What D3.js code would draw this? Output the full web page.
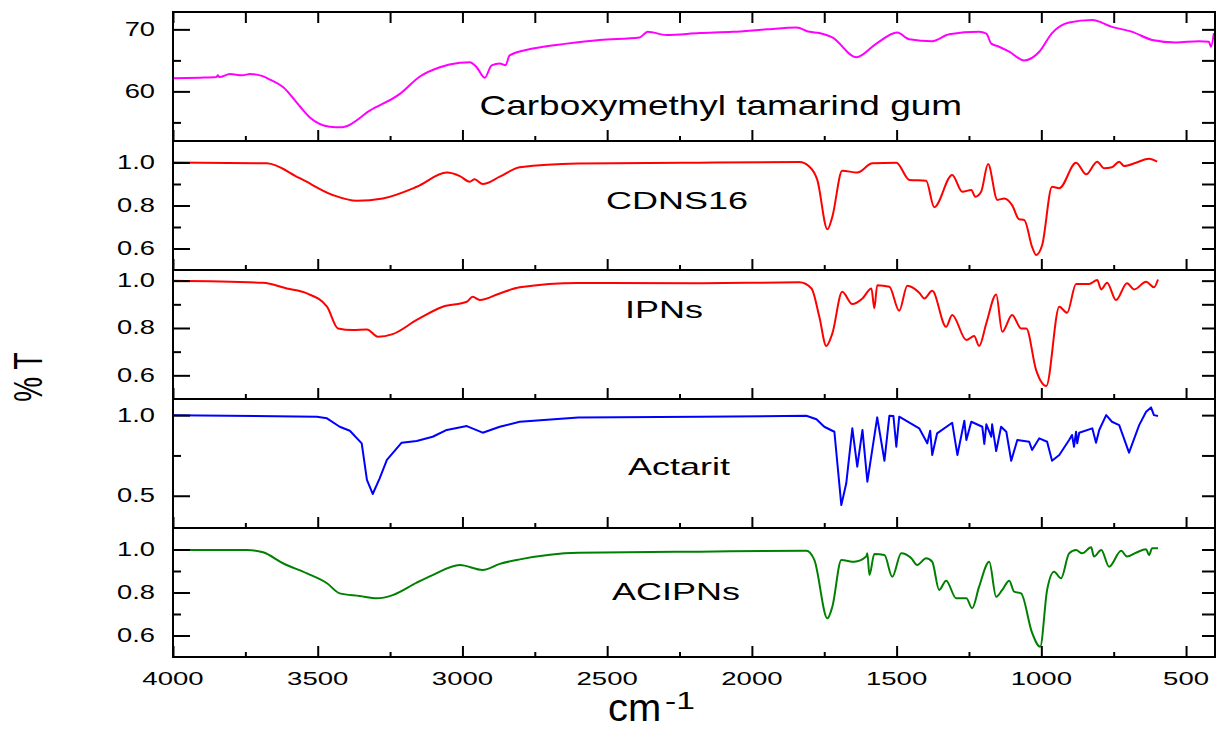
<!DOCTYPE html>
<html><head><meta charset="utf-8">
<script src="https://cdn.jsdelivr.net/npm/d3@7"></script>
<style>
body{margin:0;background:#fff}
svg{display:block}
text{font-family:"Liberation Sans",Arial,sans-serif;fill:#000}
</style>
</head><body>
<svg id="chart" width="1216" height="730"></svg>
<script>
// ---------------- data (wavenumber cm-1, %T) ----------------
const cmtData = [[4000,62.1],[3907,62.2],[3850,62.3],[3845,62.6],[3840,62.3],[3803,62.8],[3760,62.6],[3734,62.8],[3693,62.5],[3665,61.9],[3620,60.7],[3562,57.6],[3527,55.8],[3458,54.3],[3420,54.2],[3406,54.3],[3320,56.9],[3216,59.6],[3147,62.4],[3078,63.9],[3009,64.6],[2975,64.7],[2951,63.9],[2923,62.2],[2899,64.2],[2871,64.5],[2851,64.2],[2837,65.8],[2757,66.9],[2640,67.7],[2526,68.3],[2388,68.7],[2360,69.6],[2295,69.1],[2181,69.4],[2067,69.6],[1950,70.0],[1846,70.3],[1801,69.6],[1767,69.4],[1722,68.7],[1639,65.5],[1570,67.7],[1498,69.5],[1456,68.4],[1377,68.1],[1318,69.2],[1215,69.6],[1190,69.3],[1173,67.7],[1146,67.2],[1111,66.4],[1059,65.0],[1007,66.4],[963,69.4],[904,71.1],[824,71.5],[756,70.4],[686,69.6],[617,68.3],[535,67.9],[455,68.1],[421,68.0],[414,67.2],[404,69.4]];

const cdnsData = [[4000,1.0],[3676,0.996],[3562,0.927],[3448,0.849],[3365,0.822],[3275,0.833],[3158,0.887],[3054,0.953],[3009,0.937],[2975,0.911],[2958,0.922],[2930,0.900],[2871,0.934],[2802,0.978],[2600,0.995],[2181,0.999],[1836,1.002],[1801,0.98],[1774,0.919],[1739,0.689],[1722,0.748],[1688,0.962],[1636,0.953],[1584,0.996],[1501,0.999],[1456,0.919],[1398,0.915],[1370,0.792],[1308,0.942],[1273,0.864],[1242,0.872],[1228,0.841],[1208,0.864],[1184,0.993],[1152,0.826],[1128,0.833],[1101,0.802],[1077,0.736],[1059,0.733],[1032,0.608],[1018,0.570],[997,0.616],[963,0.887],[938,0.880],[880,0.999],[845,0.945],[807,1.004],[783,0.973],[756,0.978],[731,1.004],[714,0.984],[673,0.999],[628,1.018],[600,1.004]];

const ipnData = [[4000,1.0],[3689,0.991],[3607,0.967],[3537,0.946],[3468,0.89],[3430,0.798],[3379,0.791],[3330,0.794],[3292,0.763],[3241,0.774],[3158,0.834],[3068,0.89],[2985,0.911],[2965,0.932],[2940,0.918],[2871,0.946],[2802,0.972],[2600,0.99],[2181,0.989],[1836,0.993],[1794,0.967],[1767,0.847],[1743,0.724],[1722,0.777],[1688,0.953],[1653,0.901],[1618,0.925],[1587,0.967],[1577,0.883],[1567,0.981],[1525,0.974],[1491,0.873],[1463,0.978],[1422,0.949],[1404,0.925],[1377,0.957],[1329,0.805],[1308,0.855],[1259,0.749],[1232,0.766],[1215,0.724],[1190,0.82],[1156,0.942],[1135,0.784],[1101,0.855],[1070,0.798],[1052,0.798],[1018,0.622],[983,0.555],[938,0.89],[911,0.864],[880,0.986],[835,0.986],[807,1.003],[793,0.963],[773,0.991],[742,0.918],[704,0.989],[679,0.963],[638,0.995],[611,0.972],[597,1.005]];

const actData = [[4000,1.0],[3503,0.99],[3468,0.98],[3424,0.928],[3389,0.903],[3348,0.825],[3330,0.598],[3310,0.511],[3286,0.608],[3261,0.722],[3210,0.829],[3158,0.84],[3103,0.866],[3054,0.908],[2985,0.932],[2930,0.891],[2871,0.928],[2802,0.959],[2600,0.985],[2181,0.99],[1812,0.996],[1777,0.974],[1750,0.928],[1715,0.897],[1691,0.442],[1674,0.577],[1653,0.918],[1636,0.68],[1618,0.908],[1601,0.587],[1567,0.986],[1542,0.717],[1525,0.996],[1511,0.994],[1501,0.804],[1491,0.99],[1422,0.918],[1394,0.825],[1384,0.903],[1377,0.753],[1360,0.887],[1308,0.953],[1290,0.753],[1266,0.965],[1259,0.846],[1242,0.959],[1204,0.928],[1197,0.821],[1190,0.943],[1173,0.866],[1170,0.943],[1156,0.777],[1139,0.928],[1121,0.897],[1104,0.717],[1083,0.846],[1042,0.835],[1032,0.784],[1007,0.856],[980,0.835],[963,0.717],[938,0.753],[904,0.846],[894,0.877],[887,0.804],[880,0.897],[876,0.825],[869,0.891],[824,0.918],[811,0.829],[800,0.908],[776,1.0],[756,0.959],[731,0.938],[697,0.767],[662,0.938],[638,1.021],[621,1.048],[611,1.0],[597,0.994]];

const aciData = [[4000,0.998],[3745,0.998],[3689,0.987],[3620,0.936],[3537,0.889],[3468,0.843],[3424,0.796],[3355,0.784],[3296,0.773],[3241,0.788],[3158,0.846],[3103,0.881],[3009,0.928],[2930,0.905],[2871,0.933],[2802,0.954],[2600,0.985],[2181,0.99],[1812,0.994],[1784,0.951],[1739,0.68],[1722,0.734],[1691,0.951],[1646,0.943],[1605,0.967],[1601,0.982],[1594,0.881],[1577,0.979],[1542,0.974],[1515,0.873],[1484,0.982],[1449,0.959],[1429,0.928],[1398,0.959],[1377,0.943],[1353,0.812],[1329,0.855],[1294,0.773],[1259,0.773],[1239,0.727],[1215,0.827],[1180,0.943],[1156,0.78],[1135,0.812],[1111,0.855],[1094,0.804],[1070,0.796],[1032,0.613],[1004,0.548],[980,0.812],[956,0.897],[932,0.866],[904,0.982],[880,0.998],[859,0.982],[828,1.01],[818,0.967],[793,0.998],[766,0.92],[724,0.994],[704,0.967],[673,0.985],[638,1.001],[628,0.974],[617,1.006],[597,1.006]];

const seriesNames = ["Carboxymethyl tamarind gum","CDNS16","IPNs","Actarit","ACIPNs"];
const seriesColors = ["#ff00ff","#ff0000","#ff0000","#0000ff","#008000"];
const seriesData = [cmtData, cdnsData, ipnData, actData, aciData];
const yDomains = [[52,72.8],[0.5,1.1],[0.5,1.045],[0.3,1.1],[0.5,1.1]];
const yMajorTicks = [[60,70],[0.6,0.8,1.0],[0.6,0.8,1.0],[0.5,1.0],[0.6,0.8,1.0]];
const yMinorTicks = [[55,65],[0.7,0.9],[0.7,0.9],[0.75],[0.7,0.9]];
const yTickFormats = ["d",".1f",".1f",".1f",".1f"];
const xMajorTicks = [4000,3500,3000,2500,2000,1500,1000,500];
const xMinorTicks = [3750,3250,2750,2250,1750,1250,750];
const xDomain = [4000,400];
const xTitle = "cm";
const xTitleSup = "-1";
const yTitle = "% T";

// ---------------- layout ----------------
const L = 173, R = 1215, TOP = 12, PH = 129;
const labelPos = [ // [x, baseline, anchor, fontSize, xStretch]
  [962,115,"end",28,1.32],
  [748,209,"end",24,1.5],
  [703,318,"end",24,1.5],
  [730,475,"end",24,1.5],
  [740,600,"end",24,1.5]
];
const curveTypes = [d3.curveMonotoneX,d3.curveMonotoneX,d3.curveMonotoneX,d3.curveLinear,d3.curveMonotoneX];

const svg = d3.select("#chart");
svg.append("rect").attr("width",1216).attr("height",730).attr("fill","#fff");

const x = d3.scaleLinear().domain(xDomain).range([L,R]);

function sText(g, px, py, str, size, sx, anchor){
  return g.append("text")
    .attr("transform",`translate(${px},${py}) scale(${sx},1)`)
    .attr("text-anchor",anchor).attr("font-size",size).text(str);
}

function styleAxis(g){
  g.select(".domain").remove();
  g.selectAll(".tick line").attr("stroke","#000").attr("stroke-width",2);
}

seriesData.forEach((data,i)=>{
  const top = TOP + i*PH, bot = top + PH;
  const y = d3.scaleLinear().domain(yDomains[i]).range([bot, top]);
  const g = svg.append("g");

  const cid = "clip"+i;
  svg.append("clipPath").attr("id",cid).append("rect")
    .attr("x",L).attr("y",top).attr("width",R-L).attr("height",PH);

  const line = d3.line().x(d=>x(d[0])).y(d=>y(d[1])).curve(curveTypes[i]);
  g.append("path").datum(data).attr("clip-path",`url(#${cid})`)
    .attr("fill","none").attr("stroke",seriesColors[i]).attr("stroke-width",2)
    .attr("stroke-linejoin","round").attr("d",line);

  g.append("g").attr("transform",`translate(${L},0)`)
    .call(d3.axisLeft(y).tickValues(yMajorTicks[i]).tickSize(-17).tickFormat("")).call(styleAxis);
  g.append("g").attr("transform",`translate(${L},0)`)
    .call(d3.axisLeft(y).tickValues(yMinorTicks[i]).tickSize(-8).tickFormat("")).call(styleAxis);
  g.append("g").attr("transform",`translate(${R},0)`)
    .call(d3.axisRight(y).tickValues(yMajorTicks[i].concat(yMinorTicks[i])).tickSize(-13).tickFormat("")).call(styleAxis);

  g.append("g").attr("transform",`translate(0,${bot})`)
    .call(d3.axisBottom(x).tickValues(xMajorTicks).tickSize(-11).tickFormat("")).call(styleAxis);
  g.append("g").attr("transform",`translate(0,${bot})`)
    .call(d3.axisBottom(x).tickValues(xMinorTicks).tickSize(-5).tickFormat("")).call(styleAxis);
  if(i===0){
    g.append("g").attr("transform",`translate(0,${top})`)
      .call(d3.axisTop(x).tickValues(xMajorTicks.concat(xMinorTicks)).tickSize(-11).tickFormat("")).call(styleAxis);
  }

  const fmt = d3.format(yTickFormats[i]);
  yMajorTicks[i].forEach(v=>{
    sText(g, 155, y(v)+6.5, fmt(v), 21, 1.3, "end");
  });

  g.append("rect").attr("x",L).attr("y",top).attr("width",R-L).attr("height",PH)
    .attr("fill","none").attr("stroke","#000").attr("stroke-width",2);

  const lp = labelPos[i];
  sText(g, lp[0], lp[1], seriesNames[i], lp[3], lp[4], lp[2]);
});

const xl = svg.append("g");
xMajorTicks.forEach(v=>{
  sText(xl, x(v), 685, String(v), 19, 1.45, "middle");
});

sText(svg, 608, 721, xTitle, 38, 1.05, "start");
sText(svg, 665, 709, xTitleSup, 24, 1.4, "start");
svg.append("text")
  .attr("transform","translate(42,377) scale(1.45,1) rotate(-90)")
  .attr("text-anchor","middle").attr("font-size",28).text(yTitle);
</script>
</body></html>
